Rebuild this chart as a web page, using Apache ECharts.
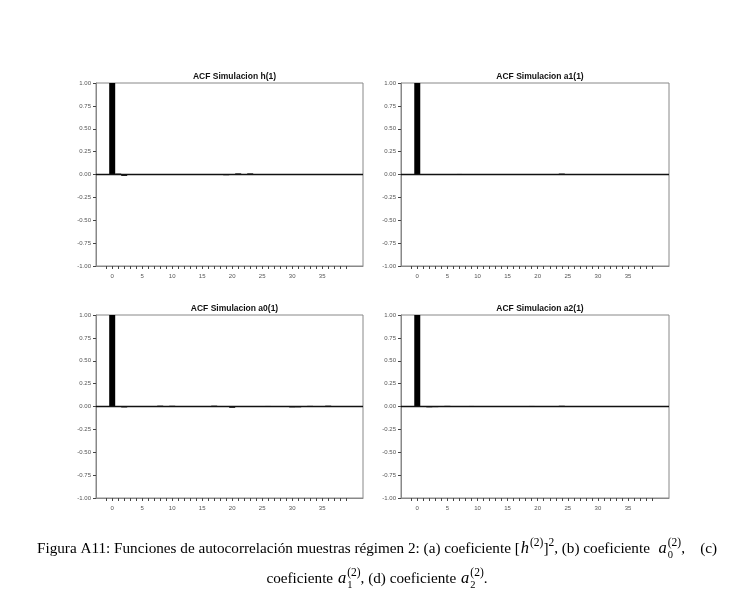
<!DOCTYPE html>
<html>
<head>
<meta charset="utf-8">
<script src="https://cdn.jsdelivr.net/npm/echarts@6/dist/echarts.min.js"></script>
<style>
  html, body { margin: 0; padding: 0; background: #fff; }
  #chart { width: 754px; height: 614px; }
</style>
</head>
<body>
<div id="chart"></div>
<script>
(function(){

// panel titles
var titles = ['ACF Simulacion h(1)', 'ACF Simulacion a1(1)', 'ACF Simulacion a0(1)', 'ACF Simulacion a2(1)'];

// lags 0..39
var lags = [];
for (var k = 0; k < 40; k++) lags.push(k);

// autocorrelations (lag 0 = 1)
var acfH = [1, 0.010, -0.015, -0.004, 0.002, 0.004, 0.000, -0.002, 0.001, 0.003,
            -0.002, 0.000, 0.002, 0.003, 0.001, -0.004, 0.003, 0.002, -0.002, -0.008,
            0.004, 0.012, 0.003, 0.012, 0.004, 0.000, 0.003, 0.002, -0.002, 0.001,
            0.002, -0.002, 0.001, 0.003, -0.002, 0.004, 0.002, -0.001, 0.001, -0.002];
var acfA1 = [1, 0.002, -0.004, -0.002, 0.001, 0.003, 0.002, 0.006, -0.005, 0.001,
             0.002, 0.004, -0.002, 0.001, 0.002, -0.001, 0.002, 0.003, -0.002, 0.001,
             0.002, 0.000, -0.003, 0.003, 0.010, 0.002, 0.001, -0.002, 0.002, 0.001,
             0.000, -0.002, 0.002, 0.003, 0.001, 0.002, -0.002, 0.001, 0.003, 0.002];
var acfA0 = [1, 0.003, -0.010, -0.003, 0.002, 0.000, 0.003, 0.002, 0.009, 0.004,
             0.008, -0.002, 0.002, 0.000, -0.005, 0.001, 0.003, 0.009, 0.002, -0.004,
             -0.014, 0.001, 0.003, -0.002, 0.002, 0.004, 0.006, 0.002, 0.001, -0.004,
             -0.010, -0.009, 0.002, 0.007, 0.003, 0.001, 0.009, 0.004, 0.002, 0.003];
var acfA2 = [1, 0.002, -0.009, -0.007, 0.002, 0.007, 0.001, -0.003, 0.002, 0.006,
             0.002, -0.002, 0.001, 0.004, 0.002, -0.001, 0.002, 0.001, 0.002, 0.006,
             0.001, 0.002, -0.002, 0.003, 0.008, 0.002, -0.004, 0.001, 0.002, 0.003,
             0.002, -0.002, 0.001, 0.002, 0.004, 0.001, -0.002, 0.002, 0.003, 0.002];
var panels = [acfH, acfA1, acfA0, acfA2];

// axis ticks and labels
var xLabels = [0, 5, 10, 15, 20, 25, 30, 35];
var xTicks = [];
for (var t = -1; t <= 39; t++) xTicks.push(t);

var chart = echarts.init(document.getElementById('chart'));

var gridPos = [
    { left: 96,  top: 83,  width: 267, height: 183 },
    { left: 401, top: 83,  width: 268, height: 183 },
    { left: 96,  top: 315, width: 267, height: 183 },
    { left: 401, top: 315, width: 268, height: 183 }
];

var tickFont = { fontFamily: 'Liberation Sans', fontSize: 6, color: '#555' };

var grid = [], xAxis = [], yAxis = [], series = [], title = [];

panels.forEach(function(vals, i){
    var g = gridPos[i];
    grid.push({ left: g.left, top: g.top, width: g.width, height: g.height,
                show: true, borderColor: '#888', borderWidth: 1, backgroundColor: '#fff' });
    title.push({
        text: titles[i],
        left: g.left + g.width / 2,
        top: g.top - 16,
        textAlign: 'center',
        textStyle: { fontFamily: 'Liberation Sans', fontSize: 8.5, fontWeight: 'bold', color: '#111' }
    });
    xAxis.push({
        type: 'value', gridIndex: i, min: -2.7, max: 41.8,
        axisLine: { show: true, onZero: false, lineStyle: { color: '#888', width: 1 } },
        axisTick: { show: true, length: 3, customValues: xTicks, lineStyle: { color: '#444' } },
        axisLabel: Object.assign({ customValues: xLabels, margin: 7 }, tickFont),
        splitLine: { show: false }
    });
    yAxis.push({
        type: 'value', gridIndex: i, min: -1, max: 1, interval: 0.25,
        axisLine: { show: true, onZero: false, lineStyle: { color: '#888', width: 1 } },
        axisTick: { show: true, length: 3, lineStyle: { color: '#444' } },
        axisLabel: Object.assign({ margin: 5, formatter: function(v){ return v.toFixed(2); } }, tickFont),
        splitLine: { show: false }
    });
    series.push({
        type: 'bar', xAxisIndex: i, yAxisIndex: i,
        barWidth: 6,
        itemStyle: { color: '#000' },
        data: lags.map(function(l, j){ return [l, vals[j]]; }),
        markLine: {
            silent: true, symbol: 'none', label: { show: false },
            lineStyle: { color: '#111', width: 1.3, type: 'solid' },
            data: [{ yAxis: 0 }]
        }
    });
});

// caption (two lines, with super/subscripts)
var serif = 'Liberation Serif';
var rich = {
    n:   { fontFamily: serif, fontSize: 15.2, color: '#000', lineHeight: 24 },
    i:   { fontFamily: serif, fontSize: 16.5, fontStyle: 'italic', color: '#000', lineHeight: 24, padding: [0, 1, 0, 1] },
    sup: { fontFamily: serif, fontSize: 11.5, color: '#000', lineHeight: 15, verticalAlign: 'top' },
    sub: { fontFamily: serif, fontSize: 10.5, color: '#000', lineHeight: 11, verticalAlign: 'bottom', width: 0.01 }
};

var line1 = '{n|Figura A11: Funciones de autocorrelación muestras régimen 2: (a) coeficiente [}{i|h}{sup|(2)}{n|]}{sup|2}' +
            '{n|, (b) coeficiente  }{i|a}{sub|0}{sup|(2)}{n|,    (c)}';
var line2 = '{n|coeficiente }{i|a}{sub|1}{sup|(2)}{n|, (d) coeficiente }{i|a}{sub|2}{sup|(2)}{n|.}';

var option = {
    backgroundColor: '#fff',
    animation: false,
    title: title,
    grid: grid,
    xAxis: xAxis,
    yAxis: yAxis,
    series: series,
    graphic: [
        { type: 'text', left: 'center', top: 537, style: { text: line1, rich: rich } },
        { type: 'text', left: 'center', top: 567, style: { text: line2, rich: rich } }
    ]
};

chart.setOption(option);
})();
</script>
</body>
</html>
